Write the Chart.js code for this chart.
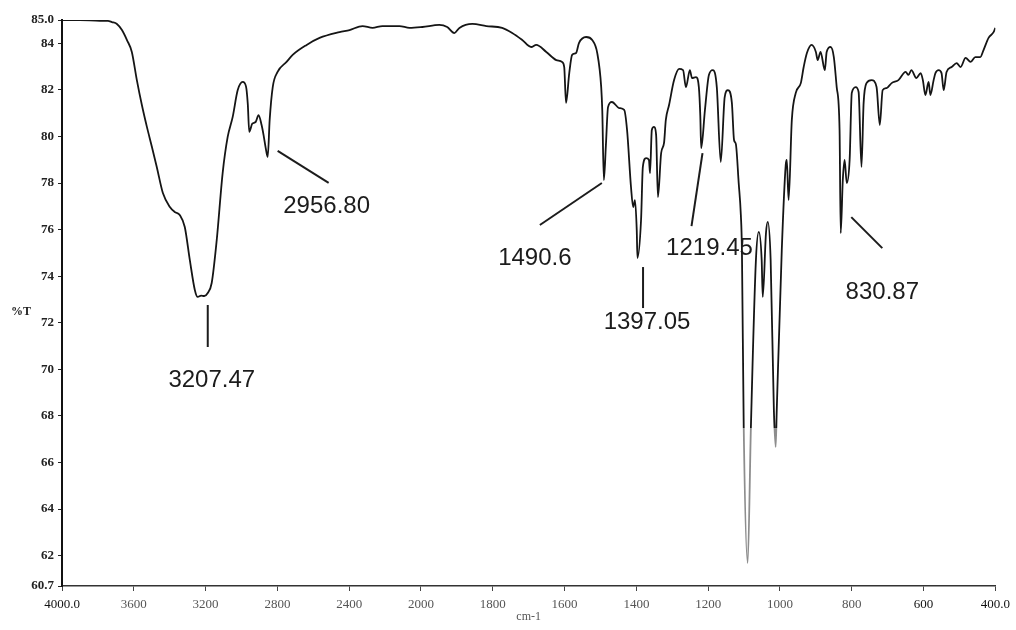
<!DOCTYPE html>
<html>
<head>
<meta charset="utf-8">
<script src="https://cdn.jsdelivr.net/npm/chart.js@4/dist/chart.umd.min.js"></script>
<style>
  html, body { margin: 0; padding: 0; background: #ffffff; }
  #wrap { width: 1016px; height: 630px; position: relative; }
  canvas { display: block; }
</style>
</head>
<body>
<div id="wrap"><canvas id="ir" width="1016" height="630"></canvas></div>
<script>
// FT-IR transmittance spectrum, wavenumber (cm-1) against %T.
const wavenumbers = [
  4000, 3900, 3789, 3744, 3722, 3694, 3666, 3638, 3611, 3583, 3555, 3527, 3499, 3472,
  3438, 3399, 3372, 3344, 3316, 3288, 3260, 3244, 3225, 3207.47, 3188, 3166, 3138, 3105,
  3077, 3049, 3021, 2993, 2975, 2965, 2956.80, 2940, 2921, 2905, 2888, 2877, 2865, 2854,
  2843, 2826, 2799, 2749, 2715, 2637, 2565, 2454, 2398, 2326, 2270, 2215, 2120, 2064,
  1996, 1949, 1927, 1907, 1893, 1857, 1818, 1774, 1746, 1718, 1693, 1679, 1651, 1623,
  1607, 1601, 1596, 1587, 1579, 1568, 1560, 1540, 1523, 1509, 1498, 1495, 1490.6, 1485,
  1479, 1468, 1448, 1434, 1426, 1415, 1409, 1404, 1399, 1397.05, 1387, 1382, 1373, 1365,
  1362, 1357, 1351, 1345, 1340, 1331, 1323, 1318, 1309, 1295, 1281, 1270, 1262, 1251,
  1245, 1234, 1226, 1222, 1219.45, 1209, 1198, 1187, 1176, 1165, 1154, 1145, 1134, 1128,
  1123, 1115, 1109, 1106, 1101, 1090, 1081, 1067, 1059, 1051, 1048, 1039, 1034, 1026,
  1017, 1012, 1009, 995, 984, 981, 976, 967, 956, 942, 934, 925, 912, 900,
  895, 887, 875, 870, 859, 850, 842, 834, 830.87, 825, 820, 814, 806, 800,
  789, 781, 773, 767, 759, 745, 731, 722, 714, 703, 689, 670, 650, 642,
  634, 620, 608, 602, 595, 586, 581, 572, 567, 558, 550, 544, 536, 522,
  508, 497, 483, 469, 456, 442, 433, 419, 405, 400
];

const transmittance = [
  85.00, 85.00, 84.96, 84.96, 84.91, 84.83, 84.57, 84.14, 83.63, 82.42, 81.35, 80.41, 79.55, 78.69,
  77.57, 76.97, 76.76, 76.63, 76.11, 74.70, 73.41, 73.11, 73.17, 73.15, 73.28, 73.71, 75.55, 78.43,
  79.98, 80.84, 81.99, 82.34, 82.15, 81.40, 80.20, 80.55, 80.62, 80.92, 80.49, 80.06, 79.50, 79.12,
  80.71, 82.12, 82.77, 83.20, 83.50, 83.93, 84.23, 84.48, 84.57, 84.74, 84.66, 84.74, 84.74, 84.66,
  84.70, 84.79, 84.70, 84.44, 84.66, 84.83, 84.74, 84.66, 84.44, 84.14, 83.84, 83.93, 83.63, 83.28,
  83.20, 82.98, 81.44, 82.72, 83.50, 83.58, 84.01, 84.27, 84.14, 83.58, 82.12, 81.10, 78.13, 79.60,
  81.26, 81.48, 81.22, 81.14, 80.28, 77.83, 76.97, 77.27, 75.98, 74.78, 76.41, 78.69, 79.07, 78.99,
  78.43, 80.28, 80.41, 80.06, 77.40, 79.29, 79.72, 80.71, 81.35, 82.42, 82.90, 82.85, 82.12, 82.85,
  82.51, 82.55, 82.12, 80.90, 79.50, 81.14, 82.64, 82.85, 82.12, 78.90, 81.69, 81.99, 81.44, 79.85,
  79.68, 78.00, 76.63, 75.12, 67.52, 61.69, 67.52, 74.70, 75.90, 74.70, 73.11, 75.85, 76.33, 74.70,
  68.25, 66.67, 68.25, 75.12, 78.77, 78.99, 77.27, 80.71, 81.87, 82.29, 82.98, 83.58, 83.93, 83.63,
  83.28, 83.63, 82.85, 83.63, 83.84, 83.41, 82.12, 80.28, 75.85, 78.13, 78.99, 78.00, 78.99, 81.87,
  82.12, 81.91, 78.69, 81.44, 82.29, 82.42, 82.12, 80.49, 81.99, 82.08, 82.29, 82.42, 82.77, 82.64,
  82.85, 82.51, 82.72, 82.42, 81.78, 82.34, 81.78, 82.42, 82.72, 82.85, 82.72, 81.99, 82.77, 82.98,
  83.15, 82.98, 83.37, 83.20, 83.41, 83.41, 83.71, 84.23, 84.48, 84.66
];

// Axis ticks
const xTickValues = [4000, 3600, 3200, 2800, 2400, 2000, 1800, 1600, 1400, 1200, 1000, 800, 600, 400];
const xTickLabels = ['4000.0', '3600', '3200', '2800', '2400', '2000', '1800', '1600', '1400', '1200', '1000', '800', '600', '400.0'];
const yTickValues = [60.7, 62, 64, 66, 68, 70, 72, 74, 76, 78, 80, 82, 84, 85];
const yTickLabels = ['60.7', '62', '64', '66', '68', '70', '72', '74', '76', '78', '80', '82', '84', '85.0'];

// Marked absorption bands
const peakWavenumbers = [3207.47, 2956.80, 1490.6, 1397.05, 1219.45, 830.87];
const peakLabels = ['3207.47', '2956.80', '1490.6', '1397.05', '1219.45', '830.87'];

// Leader line [dx1, dy1, dx2, dy2] and text centre [dx, dy], in px from each band minimum
const peakLayout = [
  { line: [3.5, 9, 3.5, 51], text: [7.5, 84] },
  { line: [28.4, 19, 79.4, 51], text: [77.4, 75] },
  { line: [-2, 3, -64, 45], text: [-69, 78] },
  { line: [5.6, 9, 5.6, 50], text: [9.6, 64] },
  { line: [1.3, 5, -9.7, 78], text: [8.3, 100] },
  { line: [10.6, -16, 41.6, 15], text: [41.6, 59] }
];

// The instrument's abscissa: 400 cm-1 per division above 2000, 200 cm-1 per division below.
const DIVISIONS = 13;
function toDivision(w) {
  return w >= 2000 ? (4000 - w) / 400 : 5 + (2000 - w) / 200;
}
function fromDivision(d) {
  return d <= 5 ? 4000 - 400 * d : 2000 - 200 * (d - 5);
}

const LinearScale = Chart.LinearScale || Chart.registry.getScale('linear');
class WavenumberScale extends LinearScale {
  buildTicks() {
    return xTickValues.map(v => ({ value: v }));
  }
  getPixelForValue(value) {
    if (value === null || value === undefined) return NaN;
    return this.getPixelForDecimal(toDivision(value) / DIVISIONS);
  }
  getValueForPixel(pixel) {
    return fromDivision(this.getDecimalForPixel(pixel) * DIVISIONS);
  }
}
WavenumberScale.id = 'wavenumber';
WavenumberScale.defaults = {};
Chart.register(WavenumberScale);

const INK = '#151515';
const FADED = '#8d8d8d';

// Pen trace fades below this transmittance level
const FADE_LEVEL = 67.5;
function traceColor(ctx) {
  const chart = ctx.chart;
  const area = chart.chartArea;
  if (!area) return INK;
  const yFade = chart.scales.y.getPixelForValue(FADE_LEVEL);
  const f = Math.min(1, Math.max(0, (yFade - area.top) / (area.bottom - area.top)));
  const g = chart.ctx.createLinearGradient(0, area.top, 0, area.bottom);
  g.addColorStop(0, INK);
  g.addColorStop(f, INK);
  g.addColorStop(f, FADED);
  g.addColorStop(1, FADED);
  return g;
}

// Band labels with leader lines, plus the axis captions
const annotations = {
  id: 'annotations',
  afterDatasetsDraw(chart) {
    const c = chart.ctx;
    const xs = chart.scales.x, ys = chart.scales.y;
    const area = chart.chartArea;
    c.save();
    c.strokeStyle = '#1c1c1c';
    c.fillStyle = '#1c1c1c';
    c.lineWidth = 2;
    c.font = '24px "Liberation Sans", Arial, sans-serif';
    c.textAlign = 'center';
    c.textBaseline = 'middle';
    peakWavenumbers.forEach((w, i) => {
      const idx = wavenumbers.indexOf(w);
      const px = xs.getPixelForValue(w);
      const py = ys.getPixelForValue(transmittance[idx]);
      const L = peakLayout[i];
      c.beginPath();
      c.moveTo(px + L.line[0], py + L.line[1]);
      c.lineTo(px + L.line[2], py + L.line[3]);
      c.stroke();
      c.fillText(peakLabels[i], px + L.text[0], py + L.text[1]);
    });
    c.font = 'bold 12px "Liberation Serif", "DejaVu Serif", serif';
    c.fillStyle = '#222';
    c.fillText('%T', area.left - 41, (area.top + area.bottom) / 2 + 9);
    c.font = '12px "Liberation Serif", "DejaVu Serif", serif';
    c.fillStyle = '#555';
    c.fillText('cm-1', (area.left + area.right) / 2, area.bottom + 31);
    c.restore();
  }
};

new Chart(document.getElementById('ir'), {
  type: 'line',
  data: {
    datasets: [{
      data: wavenumbers.map((w, i) => ({ x: w, y: transmittance[i] })),
      borderColor: traceColor,
      borderWidth: 1.8,
      pointRadius: 0,
      fill: false,
      cubicInterpolationMode: 'monotone'
    }]
  },
  plugins: [annotations],
  options: {
    responsive: false,
    animation: false,
    events: [],
    layout: { padding: { top: 20, right: 19, left: 0, bottom: 0 } },
    plugins: { legend: { display: false }, tooltip: { enabled: false } },
    scales: {
      x: {
        type: 'wavenumber',
        min: 400,
        max: 4000,
        afterFit(scale) { scale.height = 44; },
        grid: { drawOnChartArea: false, drawTicks: true, tickLength: 5, color: '#444', lineWidth: 1 },
        border: { display: true, color: '#333', width: 1.5 },
        ticks: {
          autoSkip: false,
          maxRotation: 0,
          padding: 6,
          font: { family: '"Liberation Serif", "DejaVu Serif", serif', size: 13 },
          color: ctx => (ctx.index === 0 || ctx.index >= 12) ? '#111' : '#555',
          callback: (v, i) => xTickLabels[i]
        }
      },
      y: {
        type: 'linear',
        min: 60.7,
        max: 85,
        afterFit(scale) { scale.width = 62; },
        afterBuildTicks(scale) { scale.ticks = yTickValues.map(v => ({ value: v })); },
        grid: { drawOnChartArea: false, drawTicks: true, tickLength: 4, color: '#222', lineWidth: 1 },
        border: { display: true, color: '#111', width: 2 },
        ticks: {
          autoSkip: false,
          padding: 4,
          font: { family: '"Liberation Serif", "DejaVu Serif", serif', size: 13, weight: 'bold' },
          color: '#222',
          callback: (v, i) => yTickLabels[i]
        }
      }
    }
  }
});
</script>
</body>
</html>
